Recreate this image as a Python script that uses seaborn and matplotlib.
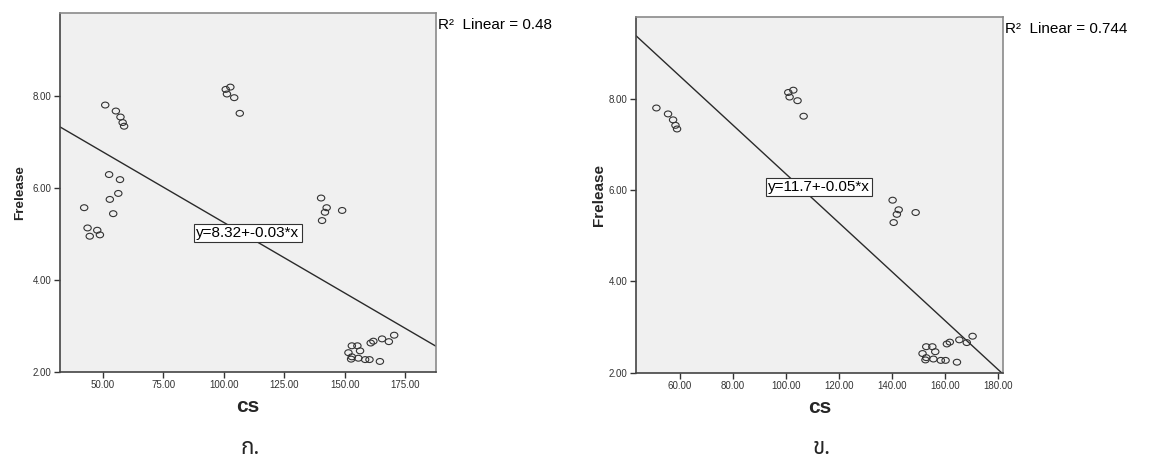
import numpy as np
import pandas as pd
import matplotlib
matplotlib.use("Agg")
import matplotlib.pyplot as plt
from matplotlib.path import Path
import seaborn as sns

# ---- data ----
# points present only in panel ก.
cs_only_a = [42.4, 43.8, 44.7, 47.8, 48.9, 53.0, 52.7, 54.4, 56.5, 57.2]
frelease_only_a = [5.57, 5.13, 4.95, 5.08, 4.98, 5.75, 6.29, 5.44, 5.88, 6.18]
# points present in both panels
cs_common = [51.1, 55.5, 57.4, 58.3, 58.9,
             100.9, 102.8, 101.4, 104.4, 106.7,
             140.3, 142.6, 141.9, 140.7, 149.0,
             153.0, 155.3, 156.4, 151.6, 153.0, 152.7, 155.7, 158.5, 160.3, 164.6,
             160.8, 161.9, 165.5, 168.3, 170.5]
frelease_common = [7.80, 7.67, 7.54, 7.42, 7.34,
                   8.14, 8.19, 8.04, 7.96, 7.62,
                   5.78, 5.57, 5.47, 5.29, 5.51,
                   2.57, 2.57, 2.46, 2.42, 2.33, 2.28, 2.30, 2.27, 2.27, 2.23,
                   2.63, 2.67, 2.72, 2.66, 2.80]

eq_labels = ["y=8.32+-0.03*x", "y=11.7+-0.05*x"]
r2_labels = ["R\u00b2  Linear = 0.48", "R\u00b2  Linear = 0.744"]
panel_labels = ["ก.", "ข."]
xticks_a = [50, 75, 100, 125, 150, 175]
xticks_b = [60, 80, 100, 120, 140, 160, 180]
yticks = [2, 4, 6, 8]

df_a = pd.DataFrame({"cs": cs_only_a + cs_common, "Frelease": frelease_only_a + frelease_common})
df_b = pd.DataFrame({"cs": cs_common, "Frelease": frelease_common})

sns.set_theme(style="white")
plt.rcParams["font.family"] = ["Liberation Sans", "DejaVu Sans", "Noto Sans"]

fig = plt.figure(figsize=(11.49, 4.59), dpi=100)
ax1 = fig.add_axes([0.0522, 0.1895, 0.3273, 0.7822])
ax2 = fig.add_axes([0.5533, 0.1880, 0.3199, 0.7756])

circ = Path.unit_circle()
ellipse = Path(circ.vertices * np.array([1.25, 1.0]), circ.codes)

cfg = [
    (ax1, df_a, (32.4, 187.8), xticks_a, (110.1, 5.02), 0, 9.7, 5),
    (ax2, df_b, (43.3, 182.1), xticks_b, (112.4, 6.07), 1, 11, 1.5),
]

for ax, df, xlim, xt, eqpos, i, ylab_fs, ylab_pad in cfg:
    ax.set_facecolor("#f0f0f0")
    ax.set_xlim(*xlim)
    ax.set_ylim(2.0, 9.8)
    sns.regplot(data=df, x="cs", y="Frelease", ax=ax, scatter=False, ci=None,
                truncate=False, line_kws={"color": "#2a2a2a", "lw": 1.0})
    sns.scatterplot(data=df, x="cs", y="Frelease", ax=ax, marker=ellipse, s=28,
                    facecolor="none", edgecolor="#333333", linewidth=0.8, zorder=3)
    ax.set_xlim(*xlim)
    ax.set_ylim(2.0, 9.8)
    ax.set_xticks(xt)
    ax.set_xticklabels([f"{v:.2f}" for v in xt])
    ax.set_yticks(yticks)
    ax.set_yticklabels([f"{v:.2f}" for v in yticks])
    ax.tick_params(axis="both", direction="out", length=4, width=1, color="#333333",
                   labelsize=7, labelcolor="#333333", pad=2,
                   bottom=True, left=True)
    for s in ["left", "bottom"]:
        ax.spines[s].set_color("#444444")
        ax.spines[s].set_linewidth(1.2)
    for s in ["top", "right"]:
        ax.spines[s].set_color("#8a8a8a")
        ax.spines[s].set_linewidth(1.2)
    ax.set_xlabel("cs", fontsize=15, fontweight="bold", labelpad=5)
    ax.set_ylabel("Frelease", fontsize=ylab_fs, fontweight="bold", labelpad=ylab_pad)
    ax.text(eqpos[0], eqpos[1], eq_labels[i], fontsize=11, ha="center", va="center",
            color="black", zorder=4,
            bbox=dict(boxstyle="square,pad=0.15", fc="white", ec="#333333", lw=0.8))
    ax.text(1.004, 0.985, r2_labels[i], transform=ax.transAxes, fontsize=11,
            ha="left", va="top", color="black")

thai_fam = ["Noto Sans Thai", "Loma", "Garuda", "DejaVu Sans", "Noto Sans"]
fig.text(250 / 1149, 1 - 449 / 459, panel_labels[0], fontsize=16, fontweight="bold",
         ha="center", va="center", family=thai_fam)
fig.text(821.7 / 1149, 1 - 448 / 459, panel_labels[1], fontsize=16, fontweight="bold",
         ha="center", va="center", family=thai_fam)

fig.savefig("out.png", dpi=100, facecolor="white")
